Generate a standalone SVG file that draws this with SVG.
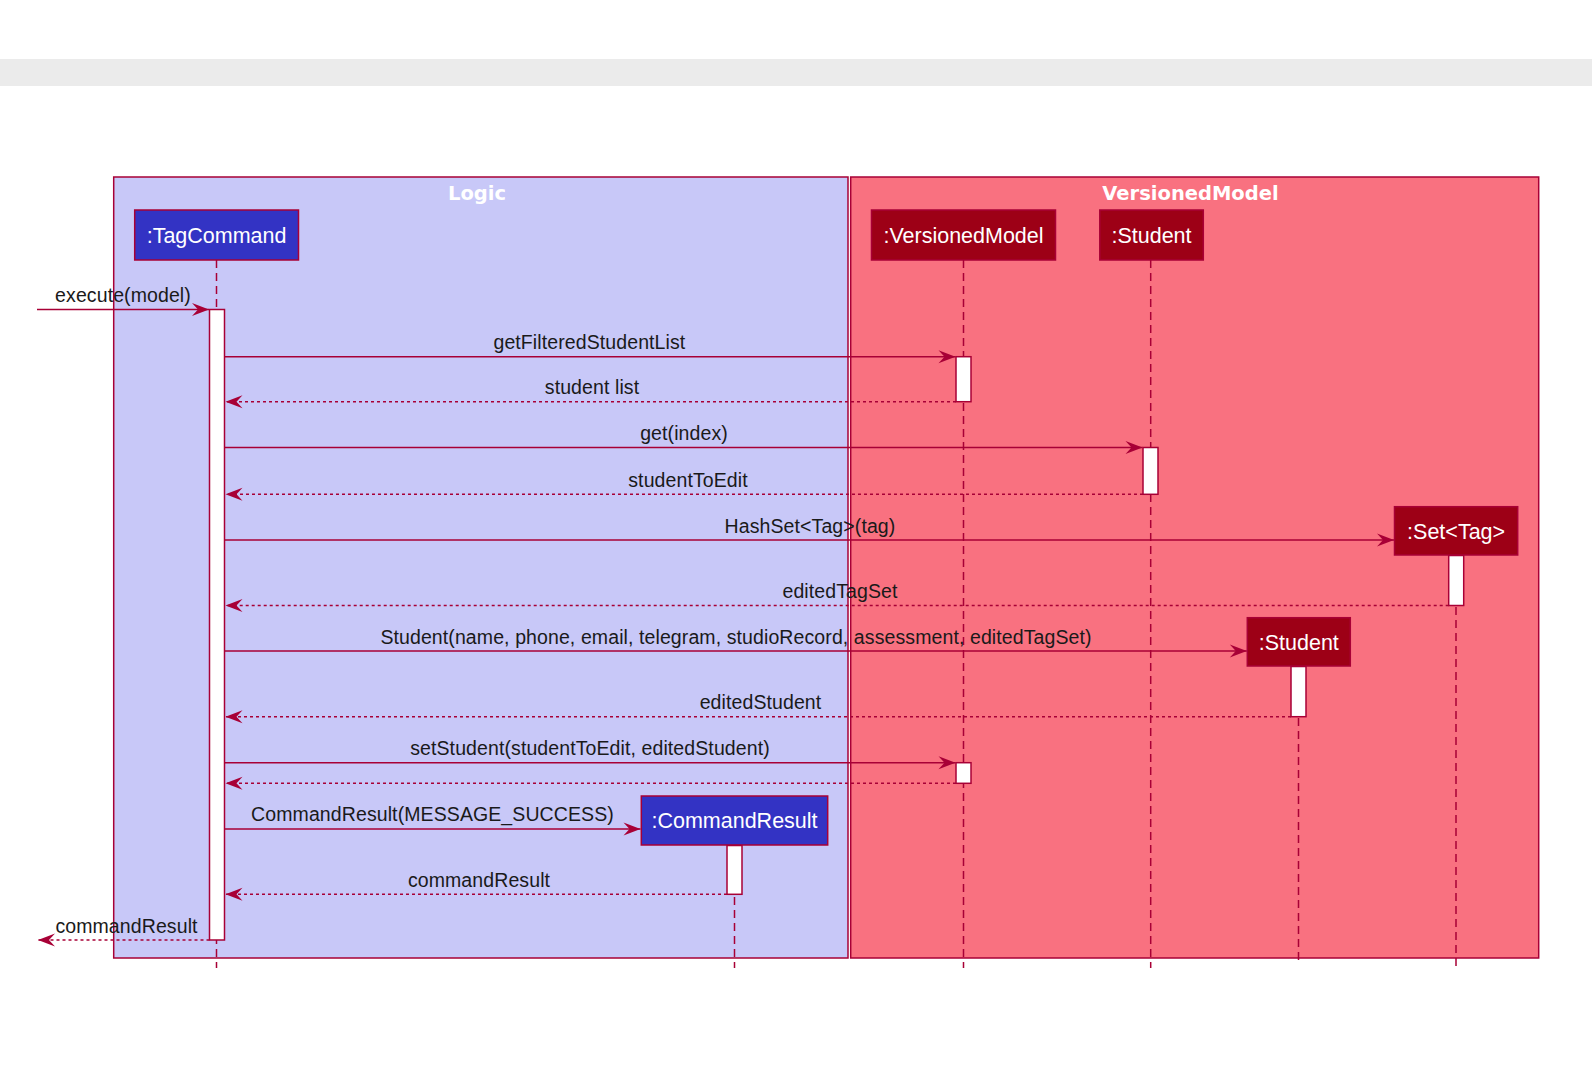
<svg xmlns="http://www.w3.org/2000/svg" width="1592" height="1088" viewBox="0 0 1592 1088">
<style>
.bg{fill:#FFFFFF}
.band{fill:#EBEBEB}
.grp{stroke:#A80036;stroke-width:1.5}
.logic{fill:#C8C8F8}
.vm{fill:#F97180}
.gt{font-family:"DejaVu Sans",sans-serif;font-weight:bold;font-size:19.5px;fill:#FFFFFF;text-anchor:middle}
.pb{fill:#3333C4;stroke:#A80036;stroke-width:1.5}
.pr{fill:#9D0016;stroke:#A80036;stroke-width:1.5}
.pt{font-family:"Liberation Sans",Arial,sans-serif;font-size:21.5px;fill:#FFFFFF;text-anchor:middle}
.life{stroke:#A80036;stroke-width:1.5;stroke-dasharray:8,5;fill:none}
.act{fill:#FFFFFF;stroke:#A80036;stroke-width:1.5}
.msg{stroke:#A80036;stroke-width:1.5;fill:none;marker-end:url(#ah)}
.ret{stroke:#A80036;stroke-width:1.5;fill:none;stroke-dasharray:3,3;marker-end:url(#ah)}
.ml{font-family:"Liberation Sans",Arial,sans-serif;font-size:19.5px;letter-spacing:0.1px;fill:#1A1A1A;text-anchor:middle}
</style>
<defs>
<marker id="ah" viewBox="-18 -8 19 16" refX="0" refY="0" markerWidth="19" markerHeight="16" markerUnits="userSpaceOnUse" orient="auto">
<polygon points="0,0 -17,-6.5 -11,0 -17,6.5" fill="#A80036"/>
</marker>
</defs>
<rect class="bg" x="0" y="0" width="1592" height="1088"/>
<rect class="band" x="0" y="59" width="1592" height="27"/>

<g id="group-logic">
<rect class="grp logic" x="113.7" y="177" width="734.3" height="781"/>
<text class="gt" x="477" y="200">Logic</text>
</g>
<g id="group-versionedmodel">
<rect class="grp vm" x="850.7" y="177" width="688" height="781"/>
<text class="gt" x="1190.5" y="200">VersionedModel</text>
</g>

<g id="lifelines">
<line class="life" x1="216.5" y1="260" x2="216.5" y2="968"/>
<line class="life" x1="963.5" y1="260" x2="963.5" y2="968"/>
<line class="life" x1="1150.7" y1="260" x2="1150.7" y2="968"/>
<line class="life" x1="1456" y1="555" x2="1456" y2="968"/>
<line class="life" x1="1298.5" y1="666" x2="1298.5" y2="962"/>
<line class="life" x1="734.5" y1="845" x2="734.5" y2="968"/>
</g>

<g id="p-tagcommand">
<rect class="pb" x="134.7" y="210" width="163.8" height="50"/>
<text class="pt" x="216.6" y="243">:TagCommand</text>
<rect class="act" x="209.5" y="309.5" width="15" height="630.5"/>
</g>
<g id="p-versionedmodel">
<rect class="pr" x="871.5" y="210" width="184" height="50"/>
<text class="pt" x="963.5" y="243">:VersionedModel</text>
<rect class="act" x="956" y="356.7" width="15" height="45"/>
<rect class="act" x="956" y="762.7" width="15" height="20.6"/>
</g>
<g id="p-student">
<rect class="pr" x="1099.8" y="210" width="103.5" height="50"/>
<text class="pt" x="1151.5" y="243">:Student</text>
<rect class="act" x="1143" y="447.5" width="15" height="46.8"/>
</g>
<g id="p-settag">
<rect class="pr" x="1394.5" y="506.7" width="123.2" height="48.3"/>
<text class="pt" x="1456.1" y="538.5">:Set&lt;Tag&gt;</text>
<rect class="act" x="1448.7" y="555.5" width="15" height="50"/>
</g>
<g id="p-student2">
<rect class="pr" x="1247.3" y="617.7" width="103" height="48.3"/>
<text class="pt" x="1298.8" y="649.5">:Student</text>
<rect class="act" x="1291" y="666.5" width="15" height="50.2"/>
</g>
<g id="p-commandresult">
<rect class="pb" x="641.3" y="796" width="186.4" height="49"/>
<text class="pt" x="734.5" y="828">:CommandResult</text>
<rect class="act" x="727" y="845.5" width="15" height="48.8"/>
</g>

<g id="connectors">
<line class="msg" x1="37" y1="309.5" x2="209" y2="309.5"/>
<text class="ml" x="123" y="302">execute(model)</text>

<line class="msg" x1="224.5" y1="356.7" x2="955.5" y2="356.7"/>
<text class="ml" x="589.4" y="349">getFilteredStudentList</text>

<line class="ret" x1="956" y1="401.7" x2="225.5" y2="401.7"/>
<text class="ml" x="592" y="394">student list</text>

<line class="msg" x1="224.5" y1="447.5" x2="1142.5" y2="447.5"/>
<text class="ml" x="684" y="440">get(index)</text>

<line class="ret" x1="1143" y1="494.3" x2="225.5" y2="494.3"/>
<text class="ml" x="688" y="486.5">studentToEdit</text>

<line class="msg" x1="224.5" y1="540" x2="1394" y2="540"/>
<text class="ml" x="810" y="532.5">HashSet&lt;Tag&gt;(tag)</text>

<line class="ret" x1="1448.7" y1="605.5" x2="225.5" y2="605.5"/>
<text class="ml" x="840" y="597.5">editedTagSet</text>

<line class="msg" x1="224.5" y1="651" x2="1246.8" y2="651"/>
<text class="ml" x="736" y="643.5">Student(name, phone, email, telegram, studioRecord, assessment, editedTagSet)</text>

<line class="ret" x1="1291" y1="716.7" x2="225.5" y2="716.7"/>
<text class="ml" x="760.5" y="708.5">editedStudent</text>

<line class="msg" x1="224.5" y1="762.7" x2="955.5" y2="762.7"/>
<text class="ml" x="590" y="755">setStudent(studentToEdit, editedStudent)</text>

<line class="ret" x1="956" y1="783.3" x2="225.5" y2="783.3"/>

<line class="msg" x1="224.5" y1="829" x2="640.5" y2="829"/>
<text class="ml" x="432.5" y="821">CommandResult(MESSAGE_SUCCESS)</text>

<line class="ret" x1="727" y1="894.3" x2="225.5" y2="894.3"/>
<text class="ml" x="479" y="886.5">commandResult</text>

<line class="ret" x1="209.5" y1="940" x2="38" y2="940"/>
<text class="ml" x="126.5" y="932.5">commandResult</text>
</g>
</svg>
